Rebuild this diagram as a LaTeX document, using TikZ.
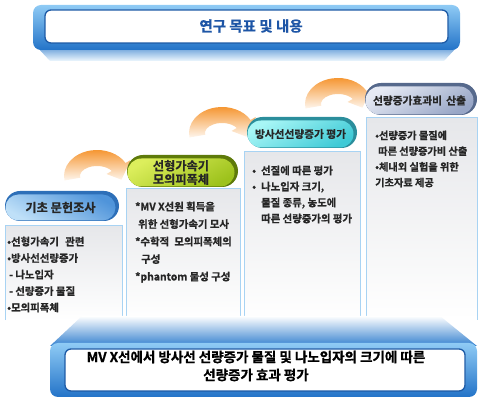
\documentclass[tikz,border=0pt]{standalone}
\usepackage{fontspec}
\setmainfont{Noto Sans CJK KR}[BoldFont={Noto Sans CJK KR Bold}, BoldFeatures={FakeBold=0.8}]
\usetikzlibrary{shapes.misc}
\definecolor{frameL}{HTML}{8FCBF5}
\definecolor{frameD}{HTML}{2373C8}
\definecolor{titleblue}{HTML}{1D55A6}
\definecolor{innerline}{HTML}{1E5BA6}
\definecolor{bodyline}{HTML}{A8D3F3}
\definecolor{bodygray}{HTML}{E6E7EA}
\definecolor{orA}{HTML}{F5922A}
\definecolor{hAd}{HTML}{2D6FB8}\definecolor{hAa}{HTML}{BFE0F8}\definecolor{hAb}{HTML}{4F94DA}
\definecolor{hBd}{HTML}{5E7A0A}\definecolor{hBa}{HTML}{DCEE5C}\definecolor{hBb}{HTML}{9DC21C}
\definecolor{hCd}{HTML}{2B8E9C}\definecolor{hCa}{HTML}{A8F6F6}\definecolor{hCb}{HTML}{3FCAD6}
\definecolor{hDd}{HTML}{56698C}\definecolor{hDa}{HTML}{E6EAF4}\definecolor{hDb}{HTML}{98A6C6}
\definecolor{txt}{HTML}{262626}
\tikzset{
  pillback/.style={rounded rectangle, inner sep=0pt, draw=none},
  pillface/.style={rounded rectangle, inner sep=0pt, draw=none, text=txt, align=center},
  bodybox/.style={rectangle, inner sep=0pt, draw=none, top color=bodygray, bottom color=white},
  bodyedge/.style={draw=bodyline, line width=1.2pt},
  bodytxt/.style={anchor=north west, align=left, inner sep=0pt, text=txt},
  framebox/.style={rectangle, inner sep=0pt, rounded corners=8pt, top color=frameL, bottom color=frameD},
  innerbox/.style={rectangle, inner sep=0pt, rounded corners=6pt, fill=white, draw=innerline, line width=1.3pt},
  hdrbig/.style={font=\bfseries\fontsize{12.2}{13.5}\selectfont},
  hdrsmall/.style={font=\bfseries\fontsize{10.7}{12}\selectfont},
}
\newcommand{\orarrow}[1]{%
  \shade[top color=orA, middle color=orA!80!white, bottom color=orA!8!white, shift={#1}]
    (170:33 and 26) arc[start angle=170, end angle=330, x radius=33, y radius=26]
    -- (330:39 and 32) -- (12:25 and 18) -- (330:11 and 4) -- (330:17 and 10)
    arc[start angle=330, end angle=170, x radius=17, y radius=10] -- cycle;}
\begin{document}
\begin{tikzpicture}[x=1pt,y=-1pt]
\useasboundingbox (0,0) rectangle (488,403);

% top banner
\shade[top color=frameD!70, bottom color=frameL!15] (37,47) -- (457,47) -- (444,61) -- (50,61) -- cycle;
\node[framebox, minimum width=427pt, minimum height=45pt] (topframe) at (246.5,27.5) {};
\node[innerbox, minimum width=403pt, minimum height=33pt] (topinner) at (246.5,26.5) {};
\node[inner sep=0pt, text=titleblue, font=\bfseries\fontsize{14.5}{16}\selectfont] (title) at (251,26) {연구 목표 및 내용};

% orange arrows
\orarrow{(97,176)}
\orarrow{(222,133)}
\orarrow{(338,104)}

% bodies
\node[bodybox, minimum width=116pt, minimum height=94pt] (b1) at (64,273) {};
\node[bodybox, minimum width=113pt, minimum height=131pt] (b2) at (183.5,254.5) {};
\node[bodybox, minimum width=115pt, minimum height=168pt] (b3) at (302.5,236) {};
\node[bodybox, minimum width=110pt, minimum height=202pt] (b4) at (422,219) {};
\foreach \b in {b1,b2,b3,b4}{
  \draw[bodyedge] (\b.south west) -- (\b.north west) -- (\b.north east) -- (\b.south east);
}

% bottom slab
\shade[top color=white, bottom color=frameD!85!frameL] (82,316) -- (440,316) -- (477,346) -- (50,346) -- cycle;

% headers
\node[pillback, fill=hAd, minimum width=114pt, minimum height=30pt] (h1s) at (62,206) {};
\node[pillface, hdrbig, top color=hAb, bottom color=hAa, shading angle=-30, minimum width=110pt, minimum height=26pt] (h1) at (60.5,207.5) {기초 문헌조사};
\node[pillback, fill=hBd, minimum width=111pt, minimum height=32pt] (h2s) at (182.5,171) {};
\node[pillface, hdrbig, top color=hBa, bottom color=hBb, shading angle=30, minimum width=107pt, minimum height=28pt] (h2) at (181,172.5) {선형가속기\\모의피폭체};
\node[pillback, fill=hCd, minimum width=110pt, minimum height=31pt] (h3s) at (302,132.5) {};
\node[pillface, hdrsmall, top color=hCa, bottom color=hCb, shading angle=30, minimum width=106pt, minimum height=27pt] (h3) at (300.5,134) {방사선선량증가 평가};
\node[pillback, fill=hDd, minimum width=112pt, minimum height=32pt] (h4s) at (421,99) {};
\node[pillface, hdrsmall, top color=hDa, bottom color=hDb, shading angle=30, minimum width=108pt, minimum height=28pt] (h4) at (419.5,100.5) {선량증가효과비\hspace{0.4em}산출};

% body texts
\node[bodytxt, font=\bfseries\fontsize{10.4}{16.5}\selectfont] (t1) at (7,236.5) {%
•선형가속기\hspace{0.6em}관련\\
•방사선선량증가\\
\hspace*{2pt}- 나노입자\\
\hspace*{2pt}- 선량증가 물질\\
•모의피폭체};
\node[bodytxt, font=\bfseries\fontsize{10.4}{17.5}\selectfont] (t2) at (135,201.5) {%
*MV X선원 획득을\\
\hspace*{3pt}위한 선형가속기 모사\\
*수학적\hspace{0.5em}모의피폭체의\\
\hspace*{6pt}구성\\
*phantom 물성 구성};
\node[bodytxt, font=\bfseries\fontsize{10.4}{16}\selectfont] (t3) at (252,165.5) {%
•\hspace{5pt}선질에 따른 평가\\
•\hspace{5pt}나노입자 크기,\\
\hspace*{9pt}물질 종류, 농도에\\
\hspace*{9pt}따른 선량증가의 평가};
\node[bodytxt, font=\bfseries\fontsize{10.2}{15.7}\selectfont] (t4) at (375,130.5) {%
•선량증가 물질에\\
\hspace*{3pt}따른 선량증가비 산출\\
•체내외 실험을 위한\\
기초자료 제공};

% bottom banner
\node[framebox, minimum width=427pt, minimum height=54pt] (botframe) at (263.5,370) {};
\node[innerbox, minimum width=400pt, minimum height=42pt] (botinner) at (265,370) {};
\node[inner sep=0pt, align=center, text=black, font=\bfseries\fontsize{13.5}{18}\selectfont] (bottxt) at (256,366) {MV X선에서 방사선 선량증가 물질 및 나노입자의 크기에 따른\\선량증가 효과 평가};
\end{tikzpicture}
\end{document}
